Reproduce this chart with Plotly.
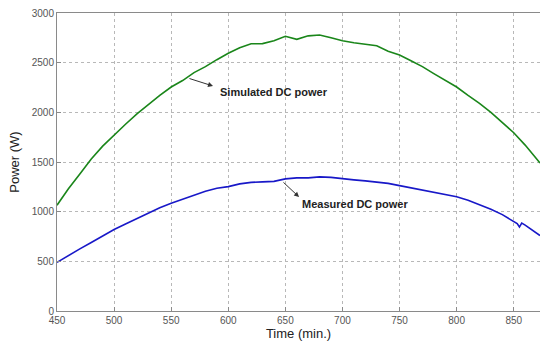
import plotly.graph_objects as go

time_green = [450, 460, 470, 480, 490, 500, 510, 520, 530, 540, 550, 560, 570, 580, 590,
              600, 610, 620, 630, 640, 650, 660, 670, 680, 690, 700, 710, 720, 730, 740,
              750, 760, 770, 780, 790, 800, 810, 820, 830, 840, 850, 860, 873]
simulated = [1065, 1230, 1380, 1530, 1660, 1775, 1880, 1985, 2080, 2170, 2255, 2320, 2400, 2460, 2530,
             2595, 2650, 2690, 2692, 2720, 2765, 2735, 2770, 2778, 2750, 2720, 2700, 2685, 2670, 2615,
             2577, 2520, 2460, 2390, 2325, 2255, 2170, 2090, 2000, 1900, 1795, 1670, 1490]

time_blue = [450, 460, 470, 480, 490, 500, 510, 520, 530, 540, 550, 560, 570, 580, 590,
             600, 610, 620, 630, 640, 650, 660, 670, 680, 690, 700, 710, 720, 730, 740,
             750, 760, 770, 780, 790, 800, 810, 820, 830, 840, 850, 853, 855, 857, 860, 870, 873]
measured = [490, 560, 625, 690, 755, 820, 875, 930, 985, 1040, 1085, 1125, 1170, 1205, 1235,
            1252, 1280, 1295, 1300, 1305, 1330, 1340, 1340, 1350, 1345, 1330, 1320, 1310, 1300, 1285,
            1262, 1240, 1215, 1195, 1175, 1150, 1115, 1070, 1025, 970, 900, 880, 845, 885, 865, 790, 760]

x_ticks = [450, 500, 550, 600, 650, 700, 750, 800, 850]
y_ticks = [0, 500, 1000, 1500, 2000, 2500, 3000]

fig = go.Figure()
fig.add_trace(go.Scatter(x=time_green, y=simulated, mode="lines",
                         line=dict(color="#1a861a", width=1.6), showlegend=False))
fig.add_trace(go.Scatter(x=time_blue, y=measured, mode="lines",
                         line=dict(color="#1818c8", width=1.6), showlegend=False))

font = "Liberation Sans, Arial, sans-serif"
axis_common = dict(
    showline=True, mirror=True, linecolor="#8a8a8a", linewidth=1,
    showgrid=True, gridcolor="#b8b8b8", griddash="dot", gridwidth=1,
    ticks="inside", ticklen=4, tickcolor="#8a8a8a",
    tickfont=dict(family=font, size=10, color="#555555"),
    zeroline=False,
)

fig.update_xaxes(range=[450, 873], tickvals=x_ticks, ticktext=[str(v) for v in x_ticks],
                 title=dict(text="Time (min.)", font=dict(family=font, size=13, color="#222222"),
                            standoff=1),
                 **axis_common)
fig.update_yaxes(range=[0, 3000], tickvals=y_ticks, ticktext=[str(v) for v in y_ticks],
                 title=dict(text="Power (W)", font=dict(family=font, size=13, color="#222222"),
                            standoff=9),
                 **axis_common)

ann_font = dict(family=font, size=11, color="#222222")
fig.add_annotation(x=586.6, y=2265, ax=564.7, ay=2345, xref="x", yref="y", axref="x", ayref="y",
                   text="", showarrow=True, arrowhead=2, arrowsize=1, arrowwidth=1, arrowcolor="#333333")
fig.add_annotation(x=591, y=2205, xref="x", yref="y", text="<b>Simulated DC power</b>",
                   showarrow=False, xanchor="left", yanchor="middle", font=ann_font)
fig.add_annotation(x=662, y=1148, ax=647, ay=1309, xref="x", yref="y", axref="x", ayref="y",
                   text="", showarrow=True, arrowhead=2, arrowsize=1, arrowwidth=1, arrowcolor="#333333")
fig.add_annotation(x=662.8, y=1077, xref="x", yref="y", text="<b>Measured DC power</b>",
                   showarrow=False, xanchor="left", yanchor="middle", font=ann_font)

fig.update_layout(
    width=540, height=341,
    margin=dict(l=57, r=0, t=13, b=30, autoexpand=False),
    paper_bgcolor="white", plot_bgcolor="white",
)

fig.write_html("out.html")
